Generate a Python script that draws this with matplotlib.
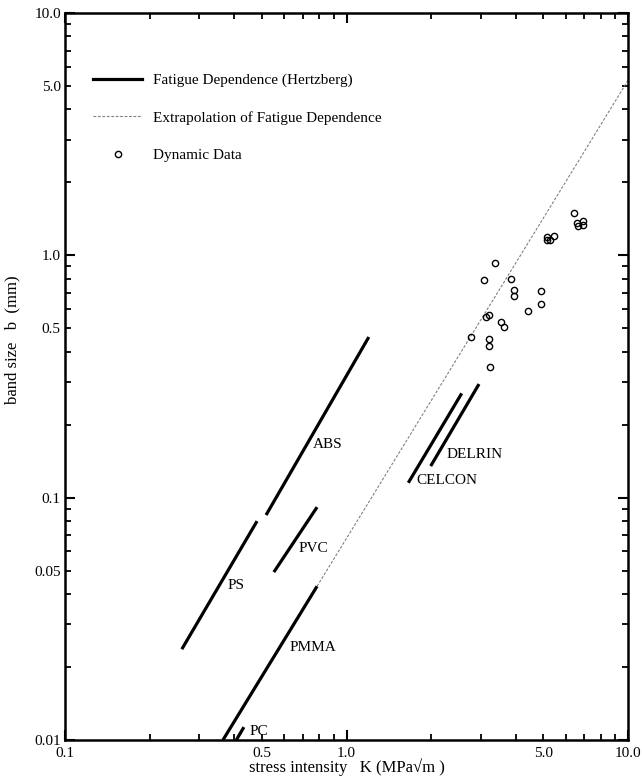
#!/usr/bin/env python3
"""Band size vs. stress intensity (log-log), fatigue lines + dynamic data."""
import numpy as np
import matplotlib
matplotlib.use("Agg")
import matplotlib.pyplot as plt
from matplotlib.lines import Line2D
from matplotlib.ticker import FixedLocator, FuncFormatter

plt.rcParams["font.family"] = ["Liberation Serif", "DejaVu Serif"]

# Fatigue dependence (Hertzberg): segment end points (K, b)
materials = ["ABS", "PS", "PVC", "PMMA", "PC", "CELCON", "DELRIN"]
seg_k = [(0.518, 1.20), (0.260, 0.481), (0.552, 0.786), (0.364, 0.786),
         (0.406, 0.432), (1.658, 2.566), (1.991, 2.956)]
seg_b = [(0.0848, 0.460), (0.0237, 0.080), (0.0493, 0.0914), (0.0100, 0.0431),
         (0.0100, 0.0113), (0.1152, 0.2694), (0.135, 0.2943)]
# label anchors (left, centre) per material
lab_k = [0.759, 0.377, 0.674, 0.626, 0.454, 1.776, 2.27]
lab_b = [0.1665, 0.0433, 0.0618, 0.0241, 0.01083, 0.118, 0.151]

# extrapolation of fatigue dependence
ext_k = [0.786, 10.0]
ext_b = [0.0431, 5.27]

# dynamic data
dyn_k = [6.45, 6.61, 6.90, 6.63, 6.90, 5.14, 5.17, 5.28, 5.45, 3.37, 3.07, 3.83,
         3.94, 3.94, 4.90, 4.90, 4.40, 3.12, 3.22, 3.55, 3.62, 2.77, 3.22, 3.20, 3.23]
dyn_b = [1.50, 1.36, 1.39, 1.32, 1.34, 1.19, 1.16, 1.16, 1.20, 0.927, 0.793, 0.801,
         0.719, 0.677, 0.712, 0.628, 0.589, 0.558, 0.569, 0.531, 0.505, 0.461, 0.450,
         0.422, 0.345]

fig = plt.figure(figsize=(6.42, 7.78), dpi=100)
ax = fig.add_axes([65 / 642, 1 - 740 / 778, 563 / 642, 727 / 778])

for k, b in zip(seg_k, seg_b):
    ax.plot(k, b, "-", color="black", lw=2.3, solid_capstyle="butt")
for name, k, b in zip(materials, lab_k, lab_b):
    ax.text(k, b, name, fontsize=11, ha="left", va="center")

ax.plot(ext_k, ext_b, color="0.5", lw=0.8, ls=(0, (2.5, 1.5)))
ax.plot(dyn_k, dyn_b, "o", mfc="none", mec="black", ms=4.5, mew=1.0)

ax.set_xscale("log")
ax.set_yscale("log")
ax.set_xlim(0.1, 10)
ax.set_ylim(0.01, 10)

def lab(v, pos):
    s = {0.01: "0.01", 0.05: "0.05", 0.1: "0.1", 0.5: "0.5", 1: "1.0", 5: "5.0", 10: "10.0"}
    for key, txt in s.items():
        if abs(v - key) < 1e-9 * max(1, key):
            return txt
    return ""

ax.xaxis.set_major_locator(FixedLocator([0.1, 1, 10]))
ax.yaxis.set_major_locator(FixedLocator([0.01, 0.1, 1, 10]))
minor_x = [m * d for d in (0.1, 1) for m in range(2, 10)]
minor_y = [m * d for d in (0.01, 0.1, 1) for m in range(2, 10)]
ax.xaxis.set_minor_locator(FixedLocator(minor_x))
ax.yaxis.set_minor_locator(FixedLocator(minor_y))
for axis in (ax.xaxis, ax.yaxis):
    axis.set_major_formatter(FuncFormatter(lab))
    axis.set_minor_formatter(FuncFormatter(lab))

ax.tick_params(which="both", direction="in", top=True, right=True, labelsize=11)
ax.tick_params(axis="x", which="both", pad=5)
ax.tick_params(axis="y", which="both", pad=3)
ax.tick_params(which="major", length=7, width=1.5)
ax.tick_params(which="minor", length=4, width=1.3)
for sp in ax.spines.values():
    sp.set_linewidth(1.8)

ax.set_xlabel("stress intensity   K (MPa\u221am )", fontsize=12, labelpad=-1)
ax.set_ylabel("band size   b  (mm)", fontsize=12)
ax.yaxis.set_label_coords(-0.08, 0.55)

handles = [Line2D([], [], color="black", lw=2.3),
           Line2D([], [], color="0.5", lw=0.8, ls=(0, (2.5, 1.5))),
           Line2D([], [], ls="none", marker="o", mfc="none", mec="black", ms=4.5, mew=1.0)]
labels = ["Fatigue Dependence (Hertzberg)",
          "Extrapolation of Fatigue Dependence",
          "Dynamic Data"]
ax.legend(handles, labels, loc="upper left", bbox_to_anchor=(0.05, 0.917),
          frameon=False, fontsize=11, handlelength=3.2, handletextpad=0.7,
          labelspacing=1.55, borderpad=0, borderaxespad=0)

fig.savefig("out.png", dpi=100)
